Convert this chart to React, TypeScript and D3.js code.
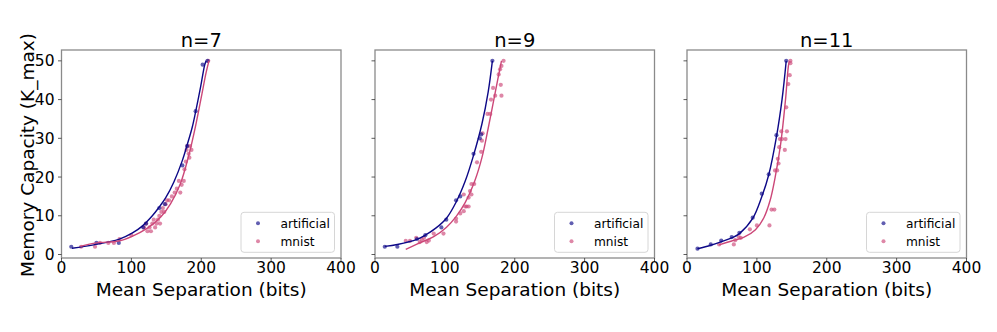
import * as d3 from "d3";

const width = 997;
const height = 332;

// panel geometry (three subplots sharing the y axis)
const panelLeft = [61.5, 375, 687];
const panelWidth = 279.5;
const plotTop = 50;
const plotBottom = 258;

const titles = ["n=7", "n=9", "n=11"];
const xTicks = [0, 100, 200, 300, 400];
const yTicks = [0, 10, 20, 30, 40, 50];

const blue = "#0d0887";
const pink = "#cc4778";

type Pt = [number, number];

// n=7
const art7: Pt[] = [[14, 2], [50, 3], [82, 3], [117, 7], [121, 8], [140, 12], [148, 13], [173, 23], [180, 28], [192, 37], [202, 49], [209, 50]];
const mnist7: Pt[] = [[28, 2], [48, 2], [55, 3], [67, 3], [75, 3], [83, 4], [100, 5], [118, 7], [121, 8], [123, 6], [126, 7], [128, 6], [130, 8], [132, 9], [134, 7], [136, 8], [138, 9], [140, 10], [141, 8], [143, 11], [145, 12], [147, 11], [149, 13], [151, 14], [154, 14], [158, 15], [162, 16], [165, 17], [168, 19], [170, 16], [172, 18], [175, 19], [176, 22], [178, 24], [179, 27], [180, 28], [182, 26], [183, 25], [184, 28], [186, 27], [210, 50]];
const fitArt7: Pt[] = [[15, 1.6], [46, 2.5], [82, 3.9], [101, 5.5], [116, 7.4], [130, 10], [140, 12.3], [149, 14.6], [161, 18.8], [173, 24.3], [180, 28.4], [187, 32.8], [192, 36.9], [199, 43.2], [205, 49], [207, 50]];
const fitMnist7: Pt[] = [[27, 2.1], [50, 3.0], [82, 3.5], [101, 4.7], [123, 6.8], [142, 9.7], [156, 13.1], [170, 18.2], [182, 25.5], [192, 33.3], [201, 41.5], [207, 47], [211, 50]];

// n=9
const art9: Pt[] = [[14, 2], [32, 2], [60, 4], [72, 5], [95, 7], [102, 9], [116, 14], [122, 15], [141, 26], [150, 30], [152, 31], [168, 50]];
const mnist9: Pt[] = [[44, 3.5], [50, 3.5], [59, 4.3], [64, 3.2], [67, 3.8], [70, 4.3], [74, 3.2], [77, 3.6], [84, 5.4], [98, 5.4], [116, 9.3], [116, 8.5], [122, 10.6], [127, 11.2], [129, 12.4], [131, 12.4], [127, 15.5], [134, 14.7], [136, 16.4], [138, 18.2], [142, 18.2], [138, 15.5], [134, 12.4], [146, 23.8], [152, 26.5], [153, 29.4], [154, 31.3], [161, 36.3], [165, 36.3], [166, 40], [169, 43], [172, 41], [177, 46.5], [179, 47.8], [180, 43.8], [181, 41], [181, 48.7], [184, 50]];
const fitArt9: Pt[] = [[14, 2.1], [32, 2.6], [60, 3.9], [72, 5], [87, 6.8], [102, 9.3], [116, 13.5], [129, 18.9], [141, 25.6], [153, 33.7], [162, 42], [168, 50]];
const fitMnist9: Pt[] = [[44, 1.3], [60, 2.7], [84, 4.6], [102, 7], [116, 9.8], [129, 13.4], [143, 19.1], [153, 25], [162, 32.6], [172, 41.8], [181, 50]];

// n=11
const art11: Pt[] = [[15, 1.5], [34, 2.6], [49, 3.6], [64, 4.5], [75, 5.6], [94, 9.5], [107, 15.7], [117, 20.7], [128, 30.8], [142, 50]];
const mnist11: Pt[] = [[46, 2.6], [67, 2.6], [69, 3.7], [74, 4.5], [77, 4.3], [90, 6.5], [100, 7.5], [118, 7.5], [121, 11.6], [125, 11.6], [126, 21.7], [129, 21.7], [130, 24.7], [131, 23.5], [132, 27.7], [133, 29.8], [135, 31.8], [136, 29.8], [140, 27], [141, 29.8], [143, 31.8], [142, 38], [145, 44], [147, 46.3], [148, 49.4], [148, 50]];
const fitArt11: Pt[] = [[15, 1.5], [34, 2.4], [49, 3.3], [64, 4.3], [75, 5.4], [94, 9.3], [107, 14.9], [117, 20.6], [128, 30.4], [136, 40], [142, 50]];
const fitMnist11: Pt[] = [[46, 2.5], [64, 3.5], [81, 4.4], [98, 6.4], [110, 9.5], [119, 14], [126, 19.8], [134, 28.5], [141, 40], [145, 48.5], [146.5, 50]];

const panels = [
  { art: art7, mnist: mnist7, fitArt: fitArt7, fitMnist: fitMnist7 },
  { art: art9, mnist: mnist9, fitArt: fitArt9, fitMnist: fitMnist9 },
  { art: art11, mnist: mnist11, fitArt: fitArt11, fitMnist: fitMnist11 },
];

const font = "DejaVu Sans, sans-serif";

const y = d3.scaleLinear().domain([-0.9, 52.8]).range([plotBottom, plotTop]);

function Panel({ idx }: { idx: number }) {
  const left = panelLeft[idx];
  const x = d3.scaleLinear().domain([0, 400]).range([left, left + panelWidth]);
  const p = panels[idx];
  const line = d3
    .line<Pt>()
    .x((d) => x(d[0]))
    .y((d) => y(d[1]))
    .curve(d3.curveCatmullRom.alpha(0.5));
  const right = left + panelWidth;
  const lgW = 93.5;
  const lgH = 40;
  const lgX = right - 6.5 - lgW;
  const lgY = plotBottom - 5.7 - lgH;
  return (
    <g>
      <text x={left + panelWidth / 2} y={47} textAnchor="middle" fontSize={19.5} fontFamily={font}>
        {titles[idx]}
      </text>
      {p.mnist.map((d, i) => (
        <circle key={"m" + i} cx={x(d[0])} cy={y(d[1])} r={2.1} fill={pink} opacity={0.65} />
      ))}
      {p.art.map((d, i) => (
        <circle key={"a" + i} cx={x(d[0])} cy={y(d[1])} r={2.1} fill={blue} opacity={0.65} />
      ))}
      <path d={line(p.fitArt) || ""} fill="none" stroke={blue} strokeWidth={1.4} />
      <path d={line(p.fitMnist) || ""} fill="none" stroke={pink} strokeWidth={1.4} />
      <rect x={left} y={plotTop} width={panelWidth} height={plotBottom - plotTop} fill="none" stroke="#8a8a8a" strokeWidth={1.3} />
      {xTicks.map((t) => (
        <g key={"x" + t}>
          <line x1={x(t)} x2={x(t)} y1={plotBottom} y2={plotBottom + 3.5} stroke="#333" strokeWidth={0.8} />
          <text x={x(t)} y={273} textAnchor="middle" fontSize={15.5} fontFamily={font}>
            {t}
          </text>
        </g>
      ))}
      {yTicks.map((t) => (
        <g key={"y" + t}>
          <line x1={left - 3.5} x2={left} y1={y(t)} y2={y(t)} stroke="#333" strokeWidth={0.8} />
          {idx === 0 && (
            <text x={left - 7} y={y(t)} dy="0.36em" textAnchor="end" fontSize={15.5} fontFamily={font}>
              {t}
            </text>
          )}
        </g>
      ))}
      <text x={left + panelWidth / 2} y={296} textAnchor="middle" fontSize={18.5} fontFamily={font}>
        Mean Separation (bits)
      </text>
      <rect x={lgX} y={lgY} width={lgW} height={lgH} rx={3} fill="white" fillOpacity={0.8} stroke="#d6d6d6" strokeWidth={1} />
      <circle cx={lgX + 17} cy={lgY + 11} r={2} fill={blue} opacity={0.65} />
      <text x={lgX + 39.5} y={lgY + 11} dy="0.35em" fontSize={12.2} fontFamily={font}>
        artificial
      </text>
      <circle cx={lgX + 17} cy={lgY + 29} r={2} fill={pink} opacity={0.65} />
      <text x={lgX + 39.5} y={lgY + 29} dy="0.35em" fontSize={12.2} fontFamily={font}>
        mnist
      </text>
    </g>
  );
}

export default function App() {
  return (
    <svg width={width} height={height} style={{ position: "absolute", left: 0, top: 0, background: "white" }}>
      <text transform={`translate(34,155) rotate(-90)`} textAnchor="middle" fontSize={18.5} fontFamily={font}>
        Memory Capacity (K_max)
      </text>
      {[0, 1, 2].map((i) => (
        <Panel key={i} idx={i} />
      ))}
    </svg>
  );
}
